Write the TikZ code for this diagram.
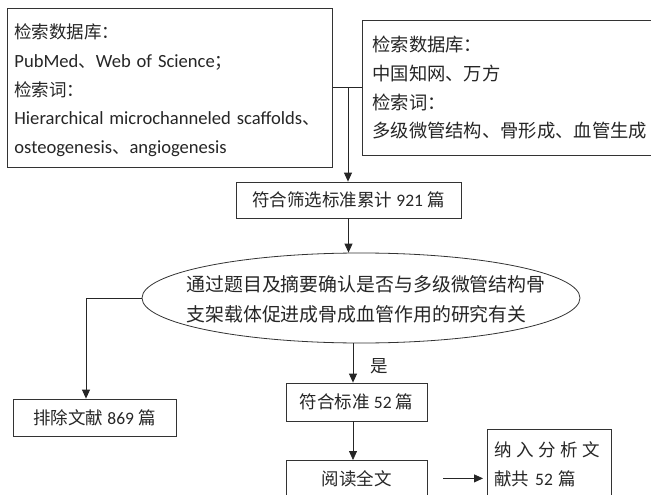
\documentclass[tikz,border=0pt]{standalone}
\usepackage{fontspec}
\setmainfont{Carlito}
\newfontfamily\cjk{Noto Sans CJK SC}
\usetikzlibrary{shapes.geometric,arrows.meta}
\newcommand{\zh}[1]{{\cjk #1}}
\newcommand{\lat}[1]{{\fontsize{18.6}{28.6}\selectfont #1}}
\begin{document}
\begin{tikzpicture}[x=1pt,y=-1pt,
  box/.style={draw=black!80, line width=0.8pt, inner sep=0pt, text=black!85},
  conn/.style={draw=black!85, line width=0.8pt},
  arr/.style={conn, -{Triangle[length=9pt,width=8pt]}},
  txt/.style={font=\fontsize{17.5}{28.6}\selectfont}]
\clip (0,0) rectangle (651,495);
\fill[white] (0,0) rectangle (651,495);

\node[box, txt, anchor=north west, minimum width=325, minimum height=159,
      text width=311, align=left, inner xsep=7pt] (db1) at (7,8)
  {\rule{0pt}{19.5pt}\zh{检索数据库：}\\ \lat{PubMed}\zh{、}\lat{Web of Science}\zh{；}\\ \zh{检索词：}\\
   \mbox{\lat{Hierarchical microchanneled scaffolds}\zh{、}}\\ \lat{osteogenesis}\zh{、}\lat{angiogenesis}};

\node[box, txt, anchor=north west, minimum width=300, minimum height=135,
      text width=280, align=left, inner xsep=10pt, font=\fontsize{18.3}{28.6}\selectfont] (db2) at (362,20)
  {\zh{检索数据库：}\\ \zh{中国知网、万方}\\ \zh{检索词：}\\ \zh{多级微管结构、骨形成、血管生成}};

\node[box, txt, minimum width=225, minimum height=36] (n921) at (348.5,200)
  {\zh{符合筛选标准累计} 921 \zh{篇}};

\node[draw=black!80, line width=0.8pt, ellipse, minimum width=438, minimum height=90,
      inner sep=0pt] (ell) at (361,298) {};
\node[inner sep=0pt, align=left, text=black!85,
      font=\cjk\fontsize{18.9}{30}\selectfont] (elltxt) at (366,299)
  {通过题目及摘要确认是否与多级微管结构骨\\支架载体促进成骨成血管作用的研究有关};

\node[box, txt, minimum width=163, minimum height=37] (ex) at (94.5,417.5)
  {\zh{排除文献} 869 \zh{篇}};

\node[box, txt, minimum width=141, minimum height=38] (ok) at (356.5,402)
  {\zh{符合标准} 52 \zh{篇}};

\node[box, txt, anchor=north, minimum width=141, minimum height=36] (read) at (356.5,460)
  {\zh{阅读全文}};

\node[box, txt, anchor=north west, minimum width=124, minimum height=70,
      text width=110, align=left, inner xsep=7pt] (inc) at (487,429)
  {\zh{纳\hspace{4.5pt}入\hspace{4.5pt}分\hspace{4.5pt}析\hspace{4.5pt}文}\\ \zh{献共} 52 \zh{篇}};

\node[txt, text=black!85, inner sep=0pt] (yes) at (379,366) {\zh{是}};

% connectors
\draw[conn] (db1.east) -- (db2.west);
\coordinate (j) at (348,87.5);
\draw[arr] (j) -- (j |- n921.north);
\draw[arr] (n921.south) -- (n921.south |- ell.north);
\coordinate (k) at (86,298);
\draw[conn] (ell.west) -- (k);
\draw[arr] (k) -- (k |- ex.north);
\draw[arr] ([xshift=-3.5pt]ok.north |- ell.south) -- ([xshift=-3.5pt]ok.north);
\draw[arr] ([xshift=-3.5pt]ok.south) -- ([xshift=-3.5pt]read.north);
\draw[arr] ([xshift=16pt]read.east) -- ([xshift=-4pt]inc.west |- read.east);
\end{tikzpicture}
\end{document}
